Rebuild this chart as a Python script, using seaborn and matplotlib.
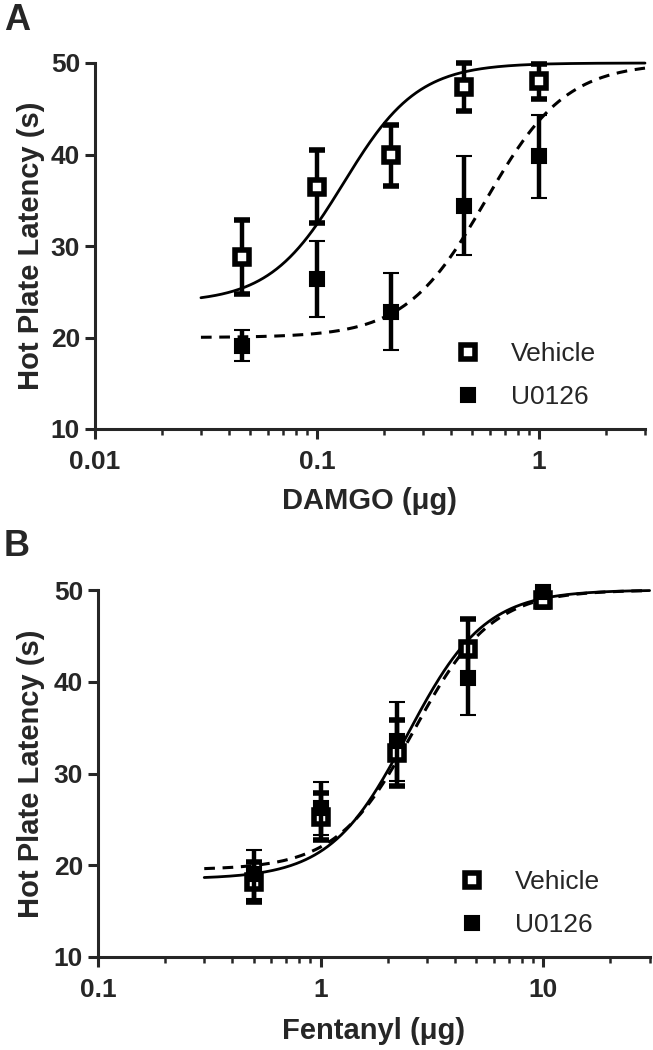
import numpy as np
import pandas as pd
import matplotlib
matplotlib.use('Agg')
import matplotlib.pyplot as plt
import seaborn as sns
from matplotlib.lines import Line2D
from matplotlib.ticker import LogLocator, NullFormatter, FixedLocator, FixedFormatter

# ---- data ----
# panel A: DAMGO
damgo_dose = [0.046, 0.1, 0.215, 0.46, 1.0]
damgo_vehicle_mean = [28.8, 36.5, 39.9, 47.4, 48.0]
damgo_vehicle_sem = [4.0, 4.0, 3.3, 2.6, 1.9]
damgo_u0126_mean = [19.1, 26.4, 22.8, 34.4, 39.8]
damgo_u0126_sem = [1.7, 4.2, 4.2, 5.4, 4.5]
# fitted curves: bottom, top, logEC50, hill slope
damgo_vehicle_fit = [23.8, 50.0, -0.88, 2.6]
damgo_u0126_fit = [20.0, 50.0, -0.24, 2.4]

# panel B: fentanyl
fent_dose = [0.5, 1.0, 2.2, 4.6, 10.0]
fent_vehicle_mean = [18.2, 25.3, 32.2, 43.6, 48.9]
fent_vehicle_sem = [2.2, 2.6, 3.6, 3.2, 0.8]
fent_u0126_mean = [19.0, 26.2, 33.5, 40.4, 49.8]
fent_u0126_sem = [2.7, 2.9, 4.3, 4.0, 0.3]
fent_vehicle_fit = [18.5, 50.0, 0.39, 2.5]
fent_u0126_fit = [19.5, 50.0, 0.42, 2.5]

y_ticks = [10, 20, 30, 40, 50]
groups = ['Vehicle', 'U0126']

sns.set_style('ticks')
plt.rcParams['font.family'] = ['Liberation Sans', 'DejaVu Sans']
plt.rcParams['axes.linewidth'] = 2.2


def hill(x, bottom, top, logec, h):
    return bottom + (top - bottom) / (1 + 10 ** ((logec - np.log10(x)) * h))


def draw_panel(ax, dose, vm, ve, um, ue, vfit, ufit, xlim, curve_lo, xticks, xticklabels, xlabel):
    xs = np.logspace(np.log10(curve_lo), np.log10(xlim[1]), 300)
    dfv = pd.DataFrame({'dose': xs, 'latency': hill(xs, *vfit)})
    dfu = pd.DataFrame({'dose': xs, 'latency': hill(xs, *ufit)})
    sns.lineplot(data=dfv, x='dose', y='latency', ax=ax, color='black', lw=2, zorder=2, clip_on=False)
    sns.lineplot(data=dfu, x='dose', y='latency', ax=ax, color='black', lw=2.2,
                 linestyle=(0, (3.5, 2.5)), zorder=2, clip_on=False)

    # vehicle first, U0126 drawn on top of it
    eb_v = ax.errorbar(dose, vm, yerr=ve, fmt='s', color='black', mfc='white', mec='black',
                       ms=9.7, mew=4, elinewidth=3.2, capsize=6, capthick=3.2, zorder=3)
    eb_u = ax.errorbar(dose, um, yerr=ue, fmt='s', color='black', ms=10, mew=1.5,
                       elinewidth=3.2, capsize=6, capthick=3.2, zorder=4)
    for eb in (eb_u, eb_v):
        for art in eb.get_children():
            art.set_clip_on(False)

    ax.set_xscale('log')
    ax.set_xlim(*xlim)
    ax.set_ylim(10, 50)
    ax.set_yticks(y_ticks)
    ax.xaxis.set_major_locator(FixedLocator(xticks))
    ax.xaxis.set_major_formatter(FixedFormatter(xticklabels))
    ax.xaxis.set_minor_locator(LogLocator(base=10, subs=np.arange(2, 10)))
    ax.xaxis.set_minor_formatter(NullFormatter())
    sns.despine(ax=ax)
    ax.tick_params(which='major', direction='out', length=7.2, width=2.2, labelsize=19, pad=3.6)
    ax.tick_params(axis='x', which='major', pad=8)
    ax.tick_params(which='minor', direction='out', length=4.3, width=1.8)
    ax.tick_params(axis='y', which='minor', length=0)
    for lab in ax.get_xticklabels() + ax.get_yticklabels():
        lab.set_fontweight('bold')
    ax.set_xlabel(xlabel, fontsize=21, fontweight='bold')
    ax.set_ylabel('Hot Plate Latency (s)', fontsize=21, fontweight='bold')

    handles = [Line2D([], [], marker='s', ls='none', mfc='white', mec='black', ms=9.7, mew=4),
               Line2D([], [], marker='s', ls='none', color='black', ms=10, mew=1.5)]
    ax.legend(handles, groups, loc='lower left', bbox_to_anchor=(0.655, 0.055), frameon=False,
              fontsize=19, handlelength=1.0, handletextpad=1.1, labelspacing=0.72,
              borderpad=0, borderaxespad=0)


fig = plt.figure(figsize=(6.53, 10.5), dpi=100)
axA = fig.add_axes([95 / 653, 1 - 429 / 1050, 550 / 653, 366 / 1050])
axB = fig.add_axes([98 / 653, 1 - 957 / 1050, 551.6 / 653, 367 / 1050])

draw_panel(axA, damgo_dose, damgo_vehicle_mean, damgo_vehicle_sem, damgo_u0126_mean, damgo_u0126_sem,
           damgo_vehicle_fit, damgo_u0126_fit, (0.01, 3), 0.03, [0.01, 0.1, 1], ['0.01', '0.1', '1'],
           'DAMGO (\u03bcg)')
draw_panel(axB, fent_dose, fent_vehicle_mean, fent_vehicle_sem, fent_u0126_mean, fent_u0126_sem,
           fent_vehicle_fit, fent_u0126_fit, (0.1, 30), 0.3, [0.1, 1, 10], ['0.1', '1', '10'],
           'Fentanyl (\u03bcg)')

axA.yaxis.set_label_coords(-0.091, 0.5)
axB.yaxis.set_label_coords(-0.096, 0.5)
axA.xaxis.set_label_coords(0.5, -0.158)
axB.xaxis.set_label_coords(0.5, -0.163)

fig.text(4 / 653, 1 - 21 / 1050, 'A', fontsize=26, fontweight='bold', va='center', ha='left')
fig.text(4 / 653, 1 - 547 / 1050, 'B', fontsize=26, fontweight='bold', va='center', ha='left')

fig.savefig('out.png', dpi=100)
